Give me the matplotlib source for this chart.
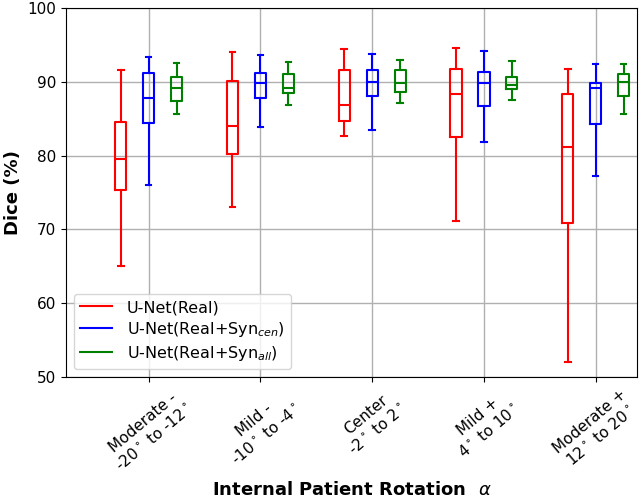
import numpy as np
import matplotlib
matplotlib.use('Agg')
import matplotlib.pyplot as plt
from matplotlib.lines import Line2D

groups = ['Moderate -\n-20$^\\circ$ to -12$^\\circ$',
          'Mild -\n-10$^\\circ$ to -4$^\\circ$',
          'Center\n-2$^\\circ$ to 2$^\\circ$',
          'Mild +\n4$^\\circ$ to 10$^\\circ$',
          'Moderate +\n12$^\\circ$ to 20$^\\circ$']
series = ['U-Net(Real)', 'U-Net(Real+Syn$_{cen}$)', 'U-Net(Real+Syn$_{all}$)']
colors = ['red', 'blue', 'green']

# per group: (whislo, q1, med, q3, whishi)
real = [(65.1, 75.3, 79.5, 84.6, 91.6),
        (73.0, 80.2, 84.0, 90.1, 94.0),
        (82.7, 84.7, 86.8, 91.6, 94.4),
        (71.1, 82.5, 88.4, 91.8, 94.6),
        (52.1, 70.8, 81.1, 88.4, 91.8)]
syn_cen = [(76.0, 84.4, 87.8, 91.2, 93.4),
           (83.9, 87.8, 89.9, 91.2, 93.6),
           (83.5, 88.1, 90.0, 91.6, 93.7),
           (81.8, 86.7, 89.8, 91.3, 94.2),
           (77.2, 84.3, 89.1, 89.9, 92.4)]
syn_all = [(85.6, 87.4, 89.1, 90.65, 92.6),
           (86.8, 88.5, 89.2, 91.1, 92.7),
           (87.1, 88.6, 89.8, 91.6, 92.9),
           (87.5, 89.0, 89.6, 90.6, 92.8),
           (85.7, 88.1, 90.0, 91.0, 92.4)]


def to_stats(rows):
    return [dict(whislo=a, q1=b, med=c, q3=d, whishi=e, fliers=[]) for a, b, c, d, e in rows]


fig = plt.figure(figsize=(6.4, 5.01), dpi=100)
ax = fig.add_axes([66 / 640, 1 - 377 / 501, 571 / 640, 369 / 501])

x = np.arange(1, len(groups) + 1)
offsets = [-0.25, 0.0, 0.25]
for data, c, off in zip([real, syn_cen, syn_all], colors, offsets):
    props = dict(color=c, linewidth=1.5)
    ax.bxp(to_stats(data), positions=x + off, widths=0.1, showfliers=False,
           boxprops=props, whiskerprops=props, capprops=props, medianprops=props,
           manage_ticks=False)

ax.set_xlim(0.26, 5.37)
ax.set_ylim(50, 100)
ax.set_xticks(x)
ax.set_xticklabels(groups, rotation=40, ha='center', fontsize=11)
ax.tick_params(axis='y', labelsize=11)
ax.grid(True, color='#b0b0b0', linewidth=1)
ax.set_axisbelow(True)

ax.set_ylabel('Dice (%)', fontsize=13, fontweight='bold')
ax.set_xlabel('Internal Patient Rotation  $\\alpha$', fontsize=13, fontweight='bold', labelpad=5)

handles = [Line2D([0], [0], color=c, linewidth=1.5) for c in colors]
ax.legend(handles, series, loc='lower left', fontsize=11.5,
          labelspacing=0.3, handletextpad=0.9, borderpad=0.4)

fig.savefig('out.png', dpi=100)
